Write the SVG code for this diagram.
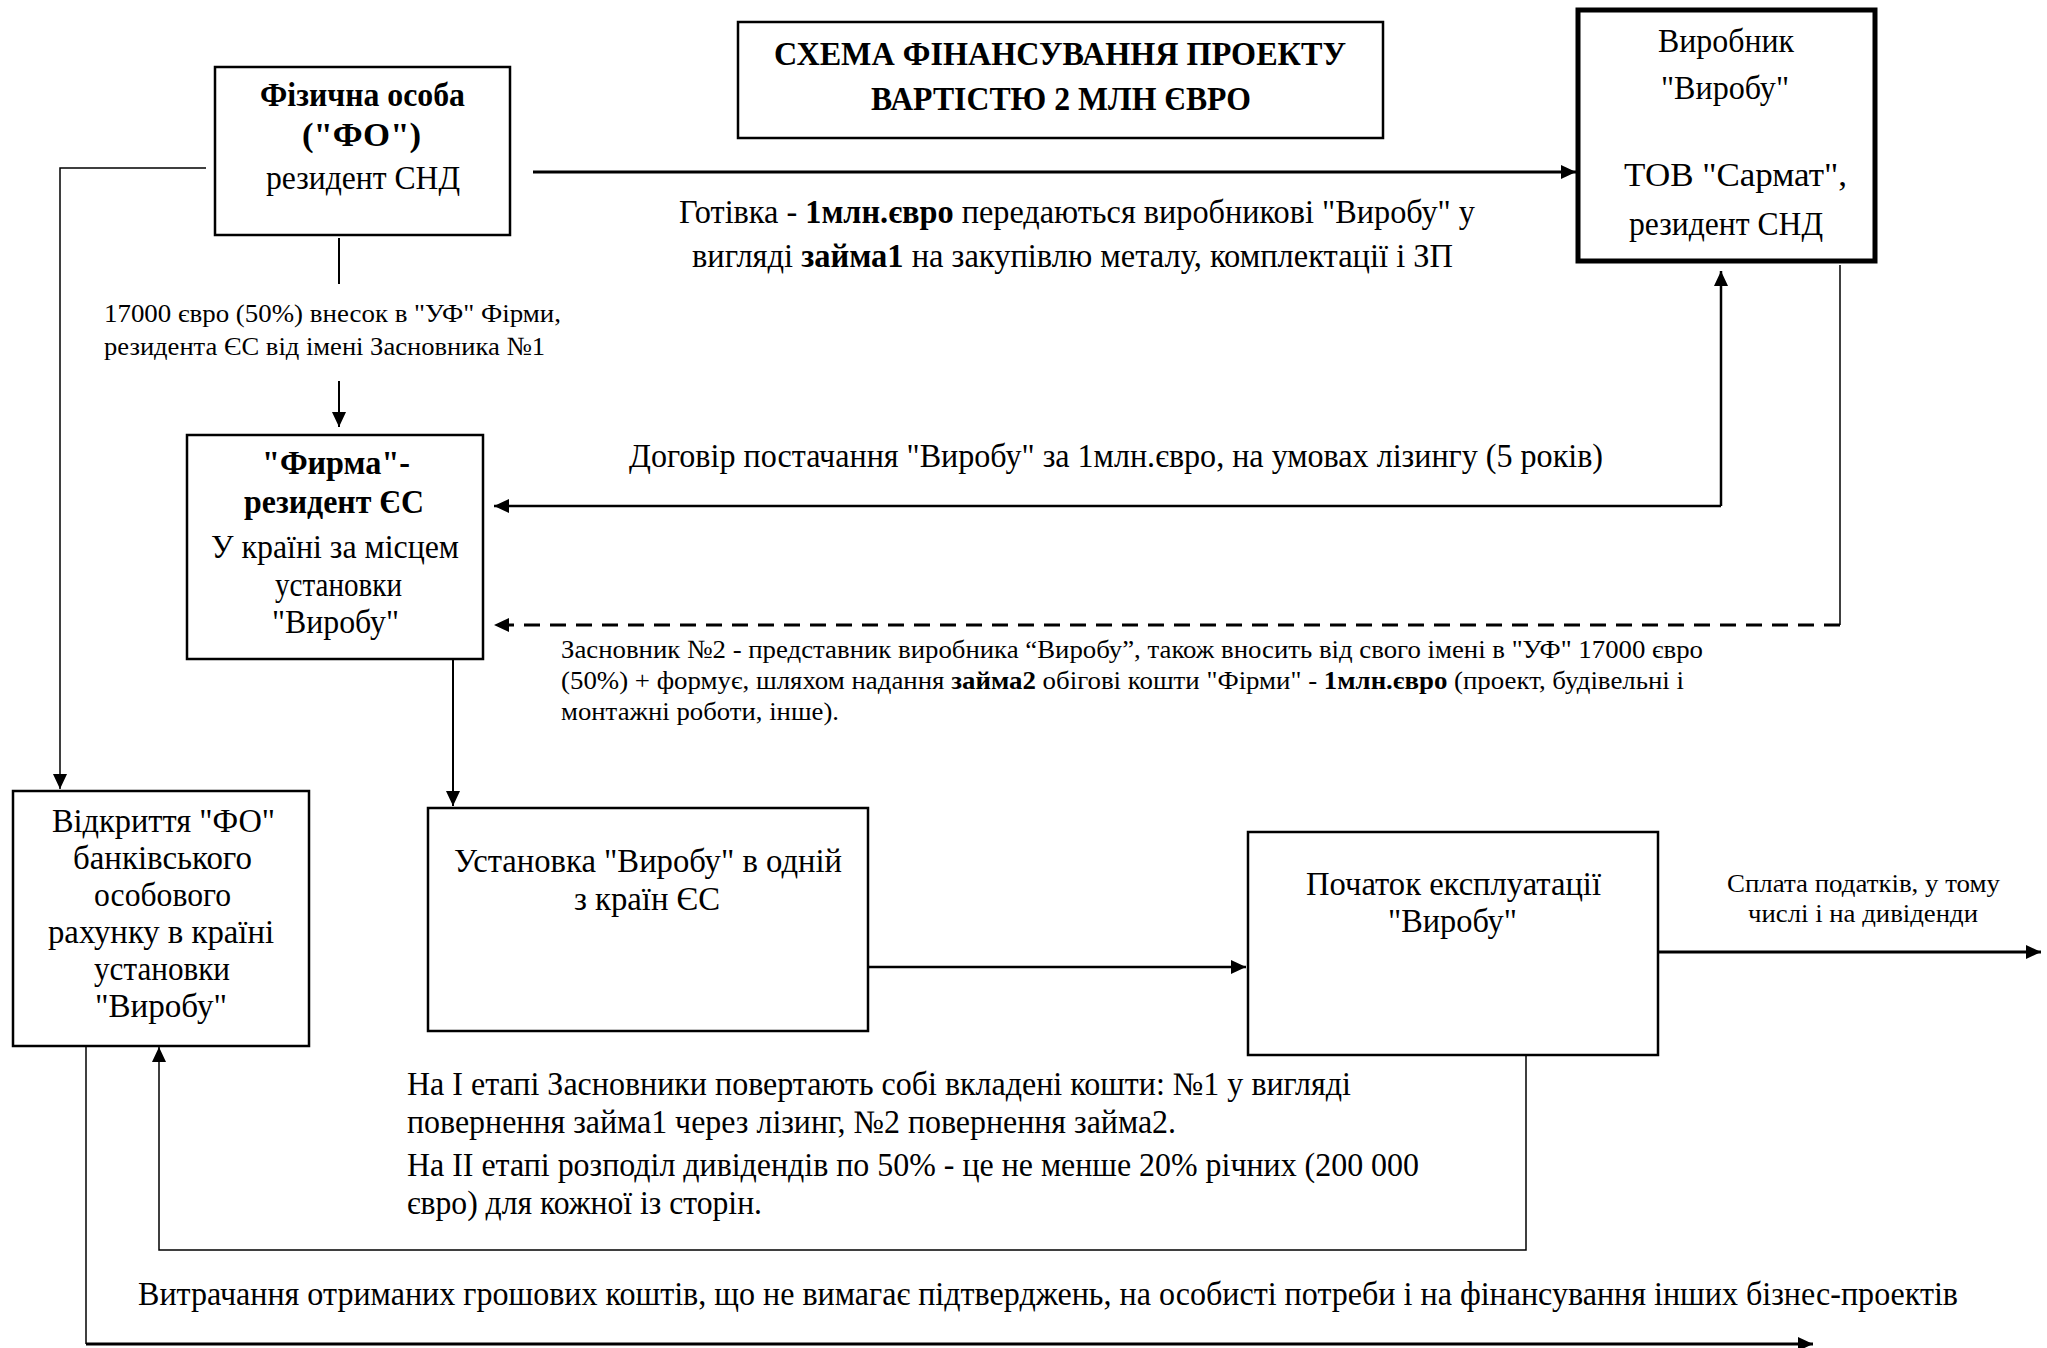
<svg xmlns="http://www.w3.org/2000/svg" width="2047" height="1348" viewBox="0 0 2047 1348">
<style>
.box{fill:#fff;stroke:#000;stroke-width:2.5}
.thick{stroke-width:5}
.t{font-family:"Liberation Serif","Times New Roman",serif;fill:#000;font-size:33px}
.s{font-size:26px}
.b{font-weight:bold}
.ln{fill:none;stroke:#000}
</style>
<defs>
<marker id="ah" markerUnits="userSpaceOnUse" markerWidth="16" markerHeight="14" refX="15" refY="7" orient="auto">
<path d="M0,0 L15,7 L0,14 z" fill="#000"/>
</marker>
</defs>
<rect width="2047" height="1348" fill="#fff"/>
<g id="connectors">
<path class="ln" d="M533,172 H1576" stroke-width="3" marker-end="url(#ah)"/>
<path class="ln" d="M206,168 H60 V789" stroke-width="1.5" marker-end="url(#ah)"/>
<path class="ln" d="M339,238 V284" stroke-width="2"/>
<path class="ln" d="M339,381 V427" stroke-width="2" marker-end="url(#ah)"/>
<path class="ln" d="M1721,506 V271" stroke-width="2.5" marker-end="url(#ah)"/>
<path class="ln" d="M1721,506 H494" stroke-width="2.5" marker-end="url(#ah)"/>
<path class="ln" d="M1840,265 V625" stroke-width="1.5"/>
<path class="ln" d="M1840,625 H494" stroke-width="3" stroke-dasharray="16,10" marker-end="url(#ah)"/>
<path class="ln" d="M453,659 V806" stroke-width="2" marker-end="url(#ah)"/>
<path class="ln" d="M868,967 H1246" stroke-width="2.5" marker-end="url(#ah)"/>
<path class="ln" d="M1658,952 H2041" stroke-width="3" marker-end="url(#ah)"/>
<path class="ln" d="M1526,1055 V1250 H159 V1047" stroke-width="1.5" marker-end="url(#ah)"/>
<path class="ln" d="M86,1046 V1344" stroke-width="1.5"/>
<path class="ln" d="M86,1344 H1813" stroke-width="3" marker-end="url(#ah)"/>
</g>
<g id="labels">
<text class="t" x="679" y="223" textLength="796" lengthAdjust="spacingAndGlyphs">Готівка - <tspan class="b">1млн.євро</tspan> передаються виробникові "Виробу" у</text>
<text class="t" x="692" y="267" textLength="761" lengthAdjust="spacingAndGlyphs">вигляді <tspan class="b">займа1</tspan> на закупівлю металу, комплектації і ЗП</text>
<text class="t s" x="104" y="322" textLength="457" lengthAdjust="spacingAndGlyphs">17000 євро (50%) внесок в "УФ" Фірми,</text>
<text class="t s" x="104" y="355" textLength="441" lengthAdjust="spacingAndGlyphs">резидента ЄС від імені Засновника №1</text>
<text class="t" x="629" y="467" textLength="974" lengthAdjust="spacingAndGlyphs">Договір постачання "Виробу" за 1млн.євро, на умовах лізингу (5 років)</text>
<text class="t s" x="561" y="658" textLength="1142" lengthAdjust="spacingAndGlyphs">Засновник №2 - представник виробника “Виробу”, також вносить від свого імені в "УФ" 17000 євро</text>
<text class="t s" x="561" y="689" textLength="1123" lengthAdjust="spacingAndGlyphs">(50%) + формує, шляхом надання <tspan class="b">займа2</tspan> обігові кошти "Фірми" - <tspan class="b">1млн.євро</tspan> (проект, будівельні і</text>
<text class="t s" x="561" y="720" textLength="278" lengthAdjust="spacingAndGlyphs">монтажні роботи, інше).</text>
<text class="t s" x="1727" y="892" textLength="273" lengthAdjust="spacingAndGlyphs">Сплата податків, у тому</text>
<text class="t s" x="1748" y="922" textLength="230" lengthAdjust="spacingAndGlyphs">числі і на дивіденди</text>
<text class="t" x="407" y="1095" textLength="944" lengthAdjust="spacingAndGlyphs">На І етапі Засновники повертають собі вкладені кошти: №1 у вигляді</text>
<text class="t" x="407" y="1133" textLength="769" lengthAdjust="spacingAndGlyphs">повернення займа1 через лізинг, №2 повернення займа2.</text>
<text class="t" x="407" y="1176" textLength="1012" lengthAdjust="spacingAndGlyphs">На ІІ етапі розподіл дивідендів по 50% - це не менше 20% річних (200 000</text>
<text class="t" x="407" y="1214" textLength="355" lengthAdjust="spacingAndGlyphs">євро) для кожної із сторін.</text>
<text class="t" x="138" y="1305" textLength="1820" lengthAdjust="spacingAndGlyphs">Витрачання отриманих грошових коштів, що не вимагає підтверджень, на особисті потреби і на фінансування інших бізнес-проектів</text>
</g>
<g id="title">
<rect class="box" x="738" y="22" width="645" height="116"/>
<text class="t b" x="774" y="65" textLength="572" lengthAdjust="spacingAndGlyphs">СХЕМА ФІНАНСУВАННЯ ПРОЕКТУ</text>
<text class="t b" x="871" y="110" textLength="380" lengthAdjust="spacingAndGlyphs">ВАРТІСТЮ 2 МЛН ЄВРО</text>
</g>
<g id="node-fo">
<rect class="box" x="215" y="67" width="295" height="168"/>
<text class="t b" x="260" y="106" textLength="205" lengthAdjust="spacingAndGlyphs">Фізична особа</text>
<text class="t b" x="302" y="146" textLength="119" lengthAdjust="spacingAndGlyphs">("ФО")</text>
<text class="t" x="266" y="189" textLength="194" lengthAdjust="spacingAndGlyphs">резидент СНД</text>
</g>
<g id="node-vyrobnyk">
<rect class="box thick" x="1578" y="10" width="297" height="251"/>
<text class="t" x="1658" y="52" textLength="136" lengthAdjust="spacingAndGlyphs">Виробник</text>
<text class="t" x="1661" y="99" textLength="128" lengthAdjust="spacingAndGlyphs">"Виробу"</text>
<text class="t" x="1624" y="186" textLength="223" lengthAdjust="spacingAndGlyphs">ТОВ "Сармат",</text>
<text class="t" x="1629" y="235" textLength="194" lengthAdjust="spacingAndGlyphs">резидент СНД</text>
</g>
<g id="node-firma">
<rect class="box" x="187" y="435" width="296" height="224"/>
<text class="t b" x="262" y="474" textLength="148" lengthAdjust="spacingAndGlyphs">"Фирма"-</text>
<text class="t b" x="244" y="513" textLength="180" lengthAdjust="spacingAndGlyphs">резидент ЄС</text>
<text class="t" x="211" y="558" textLength="248" lengthAdjust="spacingAndGlyphs">У країні за місцем</text>
<text class="t" x="275" y="596" textLength="127" lengthAdjust="spacingAndGlyphs">установки</text>
<text class="t" x="272" y="633" textLength="127" lengthAdjust="spacingAndGlyphs">"Виробу"</text>
</g>
<g id="node-rahunok">
<rect class="box" x="13" y="791" width="296" height="255"/>
<text class="t" x="52" y="832" textLength="223" lengthAdjust="spacingAndGlyphs">Відкриття "ФО"</text>
<text class="t" x="73" y="869" textLength="179" lengthAdjust="spacingAndGlyphs">банківського</text>
<text class="t" x="94" y="906" textLength="137" lengthAdjust="spacingAndGlyphs">особового</text>
<text class="t" x="48" y="943" textLength="226" lengthAdjust="spacingAndGlyphs">рахунку в країні</text>
<text class="t" x="94" y="980" textLength="136" lengthAdjust="spacingAndGlyphs">установки</text>
<text class="t" x="95" y="1017" textLength="132" lengthAdjust="spacingAndGlyphs">"Виробу"</text>
</g>
<g id="node-ustanovka">
<rect class="box" x="428" y="808" width="440" height="223"/>
<text class="t" x="454" y="872" textLength="388" lengthAdjust="spacingAndGlyphs">Установка "Виробу" в одній</text>
<text class="t" x="574" y="910" textLength="146" lengthAdjust="spacingAndGlyphs">з країн ЄС</text>
</g>
<g id="node-pochatok">
<rect class="box" x="1248" y="832" width="410" height="223"/>
<text class="t" x="1306" y="895" textLength="295" lengthAdjust="spacingAndGlyphs">Початок експлуатації</text>
<text class="t" x="1388" y="932" textLength="129" lengthAdjust="spacingAndGlyphs">"Виробу"</text>
</g>
</svg>
